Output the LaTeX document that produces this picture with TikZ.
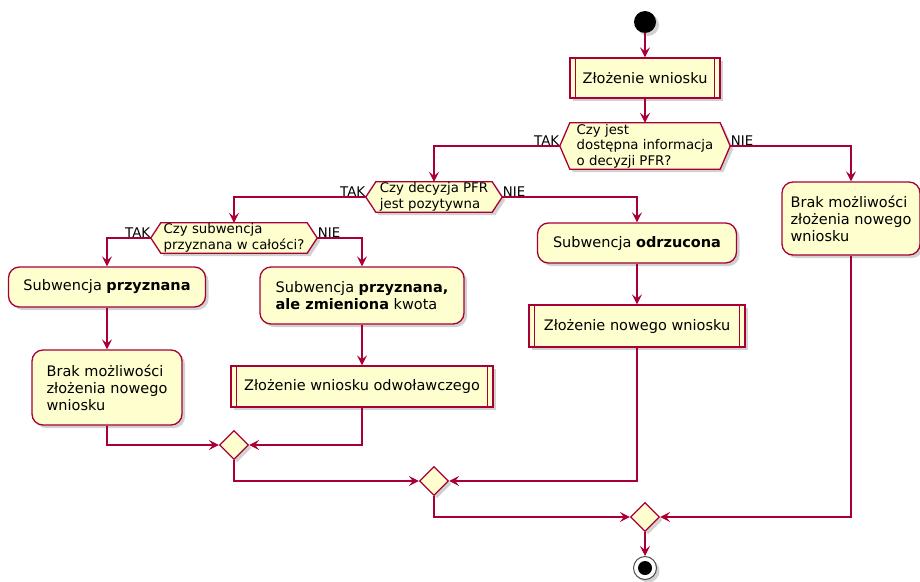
\documentclass[tikz,border=0pt]{standalone}
\usepackage{fontspec}
\setmainfont{DejaVu Sans}
\usetikzlibrary{shapes.geometric,shadows,backgrounds,arrows.meta,calc}
\definecolor{pred}{RGB}{168,0,54}
\definecolor{pfill}{RGB}{254,254,206}
\tikzset{
  shad/.style={drop shadow={shadow xshift=3pt,shadow yshift=-3pt,opacity=0.3,fill=black!60}},
  act/.style={draw=pred,fill=pfill,line width=1.3pt,rounded corners=11pt,shad,
    font=\fontsize{14.5}{17}\selectfont,align=left,inner sep=0pt},
  subp/.style={draw=pred,fill=pfill,line width=1.3pt,shad,
    font=\fontsize{14.5}{17}\selectfont,align=left,inner sep=0pt,
    path picture={
      \draw[pred,line width=1.3pt] ([xshift=5.5pt]path picture bounding box.north west) -- ([xshift=5.5pt]path picture bounding box.south west);
      \draw[pred,line width=1.3pt] ([xshift=-5.5pt]path picture bounding box.north east) -- ([xshift=-5.5pt]path picture bounding box.south east);}},
  dectext/.style={font=\fontsize{13.3}{15.5}\selectfont,align=left,inner sep=0pt},
  hexdraw/.style={draw=pred,fill=pfill,line width=1.3pt,shad},
  merge/.style={diamond,aspect=1,draw=pred,fill=pfill,line width=1.3pt,shad,
    minimum width=29pt,minimum height=29pt,inner sep=0pt},
  lbl/.style={font=\fontsize{13.3}{15}\selectfont,inner sep=0.5pt},
  arr/.style={draw=pred,line width=1.3pt,-{Stealth[length=10pt,width=10pt,inset=4pt]}},
  ln/.style={draw=pred,line width=1.3pt}
}
\newcommand\hexshape[1]{%
  \path[hexdraw] (#1.north west) -- (#1.north east) -- ([xshift=10pt]#1.east) -- (#1.south east) -- (#1.south west) -- ([xshift=-10pt]#1.west) -- cycle;
  \coordinate (#1-L) at ([xshift=-10pt]#1.west);
  \coordinate (#1-R) at ([xshift=10pt]#1.east);}
\begin{document}
\begin{tikzpicture}[x=1pt,y=-1pt]
\useasboundingbox (0,0) rectangle (920,581);
% start
\node[circle,fill=black,minimum size=22pt,inner sep=0pt,shad] (start) at (645,22) {};
% top subprocess
\node[subp,minimum width=150pt,minimum height=40pt] (zw) at (645,78) {Złożenie wniosku};
% decisions
\node[dectext,minimum width=150pt,minimum height=46pt] (d1) at (645,146) {Czy jest\\dostępna informacja\\o decyzji PFR?};
\node[dectext,minimum width=116pt,minimum height=30pt] (d2) at (434,197) {Czy decyzja PFR\\jest pozytywna};
\node[dectext,minimum width=146pt,minimum height=30pt] (d3) at (234,238) {Czy subwencja\\przyznana w całości?};
\begin{scope}[on background layer]
\hexshape{d1}
\hexshape{d2}
\hexshape{d3}
\end{scope}
% activities
\node[act,minimum width=138pt,minimum height=73pt] (brakR) at (851,218.5) {Brak możliwości\\złożenia nowego\\wniosku};
\node[act,minimum width=199pt,minimum height=40pt] (odrz) at (637,243) {Subwencja \textbf{odrzucona}};
\node[subp,minimum width=216pt,minimum height=42pt] (nowy) at (637,326) {Złożenie nowego wniosku};
\node[act,minimum width=197pt,minimum height=40pt] (przy) at (107,287) {Subwencja \textbf{przyznana}};
\node[act,minimum width=204pt,minimum height=57pt] (zmien) at (362,295.5) {Subwencja \textbf{przyznana,}\\\textbf{ale zmieniona} kwota};
\node[act,minimum width=150pt,minimum height=75pt] (brakL) at (107,387.5) {Brak możliwości\\złożenia nowego\\wniosku};
\node[subp,minimum width=262pt,minimum height=41pt] (odw) at (362,386.5) {Złożenie wniosku odwoławczego};
% merges
\node[merge] (m1) at (234,445) {};
\node[merge] (m2) at (434,481) {};
\node[merge] (m3) at (645,517) {};
% end
\node[circle,draw=black!70,fill=white,line width=1pt,minimum size=23pt,inner sep=0pt,shad] (end) at (645,568) {};
\node[circle,fill=black,minimum size=14pt,inner sep=0pt] (endin) at (end.center) {};
% connectors
\draw[arr] (start) -- (zw);
\draw[arr] (zw) -- (d1.north);
\draw[arr] (d1-L) -| (d2.north);
\draw[arr] (d1-R) -| (brakR.north);
\draw[arr] (d2-L) -| (d3.north);
\draw[arr] (d2-R) -| (odrz.north);
\draw[arr] (d3-L) -| (przy.north);
\draw[arr] (d3-R) -| (zmien.north);
\draw[arr] (przy) -- (brakL);
\draw[arr] (zmien) -- (odw);
\draw[arr] (odrz) -- (nowy);
\draw[arr] (brakL.south) |- (m1.west);
\draw[arr] (odw.south) |- (m1.east);
\draw[arr] (m1.south) |- (m2.west);
\draw[arr] (nowy.south) |- (m2.east);
\draw[arr] (m2.south) |- (m3.west);
\draw[arr] (brakR.south) |- (m3.east);
\draw[arr] (m3) -- (end);
% labels
\node[lbl,anchor=south east] (t1) at (d1-L) {TAK};
\node[lbl,anchor=south west] (n1) at (d1-R) {NIE};
\node[lbl,anchor=south east] (t2) at (d2-L) {TAK};
\node[lbl,anchor=south west] (n2) at (d2-R) {NIE};
\node[lbl,anchor=south east] (t3) at (d3-L) {TAK};
\node[lbl,anchor=south west] (n3) at (d3-R) {NIE};
\end{tikzpicture}
\end{document}
